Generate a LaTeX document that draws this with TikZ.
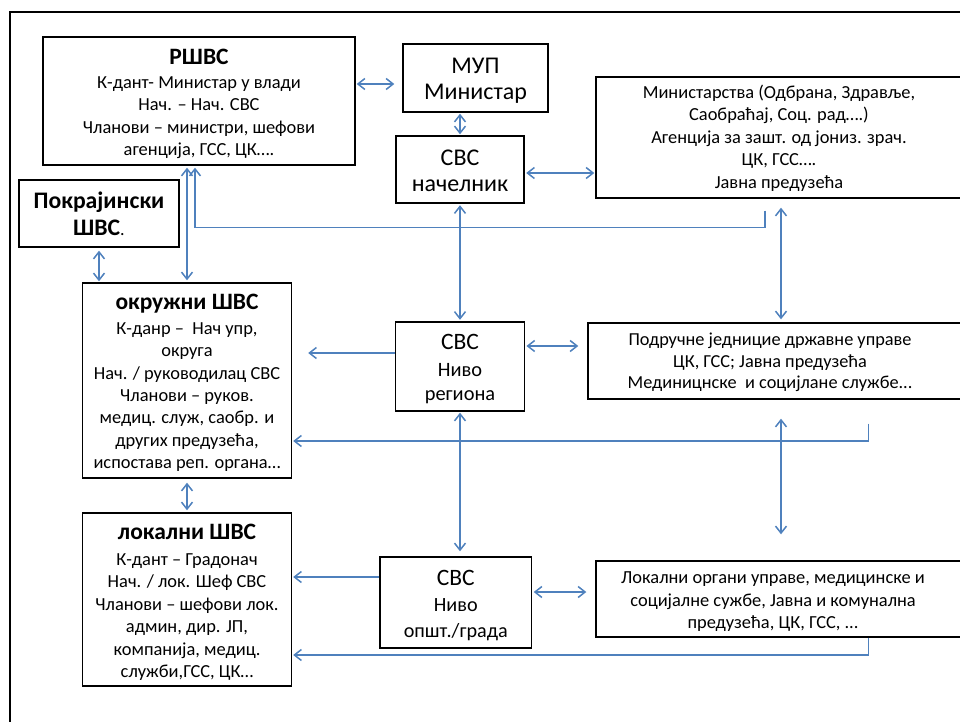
\documentclass[tikz,border=0pt]{standalone}
\usepackage{fontspec}
\setmainfont{Carlito}
\usetikzlibrary{arrows.meta}
\definecolor{linkblue}{RGB}{79,129,189}

% type sizes used in the boxes
\newcommand\bodysize{\fontsize{18.4}{22.3}\selectfont}
\newcommand\headsize{\fontsize{23.5}{22.3}\selectfont\bfseries}
% struts that fix the top and bottom of a text block
\newcommand\topstrut[1]{\rule{0pt}{#1pt}}
\newcommand\botstrut{\rule[-7pt]{0pt}{7pt}}
% blank room after a line, to move a centred block to the left
\newcommand\padR[1]{\rule{#1pt}{0pt}}

\tikzset{
  box/.style={draw=black, line width=1.4pt, inner sep=0pt, align=center, font=\bodysize},
  link/.style={draw=linkblue, line width=1.5pt},
  both/.style={link, {Straight Barb[length=7pt,width=11pt]}-{Straight Barb[length=7pt,width=11pt]}},
  one/.style={link, -{Straight Barb[length=7pt,width=11pt]}},
}

\begin{document}
\begin{tikzpicture}[x=1pt, y=-1pt]
\useasboundingbox (0,0) rectangle (960,722);
\clip (0,0) rectangle (960,722);

% outer frame
\draw[line width=2.4pt] (10,12) rectangle (1000,760);

% national level
\node[box, minimum width=312pt, minimum height=128pt] (rshvs) at (199,101)
  {\topstrut{24.8}{\headsize РШВС}\\[1.9pt] К-дант- Министар у влади\\ Нач. – Нач. СВС\\ Чланови – министри, шефови\\ агенција, ГСС, ЦК….\botstrut};
\node[box, minimum width=145pt, minimum height=68pt, font=\fontsize{24}{26}\selectfont] (mup) at (475.5,78)
  {\topstrut{23.6}МУП\\ Министар\botstrut};
\node[box, minimum width=128pt, minimum height=67pt, font=\fontsize{24}{26}\selectfont] (nach) at (460,169.5)
  {\topstrut{24.6}СВС\\ начелник\botstrut};
\node[box, minimum width=366pt, minimum height=121pt, font=\fontsize{18.4}{22.5}\selectfont] (min) at (779,137.5)
  {\topstrut{19}Министарства (Одбрана, Здравље,\\ Саобраћај, Соц. рад….)\\ Агенција за зашт. од јониз. зрач.\\ ЦК, ГСС….\\ Јавна предузећа\botstrut};
\node[box, minimum width=160pt, minimum height=67pt, font=\fontsize{23.7}{27}\selectfont\bfseries] (pokr) at (99,213.5)
  {\topstrut{24}Покрајински\\ ШВС{\mdseries\fontsize{18}{27}\selectfont .}\botstrut};

% regional level
\node[box, minimum width=209pt, minimum height=195pt] (okr) at (187,380.5)
  {\topstrut{24}{\headsize окружни ШВС}\\[2.7pt] К-данр –~ Нач упр,\\ округа\\ Нач. / руководилац СВС\\ Чланови – руков.\\ медиц. служ, саобр. и\\ других предузећа,\\ испостава реп. органа…\botstrut};
\node[box, minimum width=128.5pt, minimum height=89pt, font=\fontsize{20.4}{24}\selectfont] (reg) at (460,366.5)
  {\topstrut{23}{\fontsize{23.5}{24}\selectfont СВС}\\[3pt] Ниво\\ региона\botstrut};
\node[box, minimum width=374pt, minimum height=76pt, font=\fontsize{18.3}{21.7}\selectfont] (podr) at (775,361)
  {\topstrut{19.5}Подручне једницие државне управе\padR{10}\\ ЦК, ГСС; Јавна предузећа\padR{10}\\ Мединицнске~ и социјлане службе...\padR{10}\botstrut};

% local level
\node[box, minimum width=209pt, minimum height=173pt, font=\fontsize{18.4}{22.4}\selectfont] (lok) at (187,599.5)
  {\topstrut{25}{\headsize локални ШВС}\\[3.6pt] К-дант – Градонач\\ Нач. / лок. Шеф СВС\\ Чланови – шефови лок.\\ админ, дир. ЈП,\\ компанија, медиц.\\ служби,ГСС, ЦК…\botstrut};
\node[box, minimum width=151.5pt, minimum height=91pt, font=\fontsize{20.2}{26}\selectfont] (opst) at (455.75,602.5)
  {\topstrut{24.6}{\fontsize{23.5}{26}\selectfont СВС}\\ Ниво\\ општ./града\botstrut};
\node[box, minimum width=366pt, minimum height=76pt, font=\fontsize{18.4}{22.5}\selectfont] (lokorg) at (779,599)
  {\topstrut{21}Локални органи управе, медицинске и\padR{12}\\ социјалне сужбе, Јавна и комунална\padR{12}\\ предузећа, ЦК, ГСС, ...\padR{12}\botstrut};

% connectors
\draw[both, shorten <=1pt, shorten >=8pt] ([yshift=17pt]rshvs.east) -- ([yshift=17pt]rshvs.east -| mup.west);
\draw[both, shorten <=1pt, shorten >=1pt] (nach.north |- mup.south) -- (nach.north);
\draw[both, shorten <=1.5pt, shorten >=1pt] ([yshift=-3.5pt]nach.east) -- ([yshift=-3.5pt]nach.east -| min.west);
\draw[both, shorten <=1.5pt, shorten >=1.5pt] (nach.south) -- (nach.south |- reg.north);
\draw[both, shorten <=2pt, shorten >=2pt] (okr.north |- rshvs.south) -- (okr.north);
\draw[both, shorten <=3pt, shorten >=1pt] (pokr.south) -- (pokr.south |- okr.north);
\draw[one, shorten >=2pt] ([xshift=-14pt,yshift=-12pt]min.south) |- ([xshift=-4pt,yshift=-62pt]rshvs.south) -- ([xshift=-4pt]rshvs.south);
\draw[both, shorten <=9pt, shorten >=3pt] ([xshift=2pt]min.south) -- ([xshift=2pt]min.south |- podr.north);
\draw[one, shorten >=16pt] ([yshift=13.5pt]reg.west) -- ([yshift=13.5pt]reg.west -| okr.east);
\draw[both, shorten <=1.5pt, shorten >=9pt] ([yshift=20.5pt]reg.east) -- ([yshift=20.5pt]reg.east -| podr.west);
\draw[one, shorten >=1pt] ([xshift=93.5pt,yshift=-24pt]podr.south) |- ([yshift=-60.5pt]okr.east);
\draw[both, shorten <=19pt, shorten >=26pt] ([xshift=6pt]podr.south) -- ([xshift=6pt]podr.south |- lokorg.north);
\draw[both, shorten <=1pt, shorten >=5pt] (reg.south) -- (reg.south |- opst.north);
\draw[one, shorten >=1pt] ([yshift=25.5pt]opst.west) -- ([yshift=25.5pt]opst.west -| lok.east);
\draw[both, shorten <=1.5pt, shorten >=9pt] ([yshift=10.5pt]opst.east) -- ([yshift=10.5pt]opst.east -| lokorg.west);
\draw[one, shorten >=1pt] ([xshift=89.5pt]lokorg.south) |- ([yshift=-55.5pt]lok.east);
\draw[both, shorten <=4pt, shorten >=2pt] (okr.south) -- (lok.north);
\end{tikzpicture}
\end{document}
